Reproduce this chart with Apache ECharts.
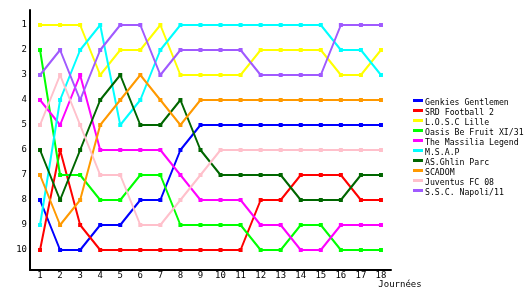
<!DOCTYPE html>
<html>
<head>
<meta charset="utf-8">
<script src="https://cdn.jsdelivr.net/npm/echarts@6/dist/echarts.min.js"></script>
<style>html,body{margin:0;padding:0;background:#fff}#c{width:530px;height:300px}</style>
</head>
<body>
<div id="c"></div>
<script>
var journees = ['1','2','3','4','5','6','7','8','9','10','11','12','13','14','15','16','17','18'];
var rankTicks = [1,2,3,4,5,6,7,8,9,10];
var teams = ['Genkies Gentlemen','SRD Football 2','L.O.S.C Lille','Oasis Be Fruit XI/31','The Massilia Legend','M.S.A.P','AS.Ghlin Parc','SCADOM','Juventus FC 08','S.S.C. Napoli/11'];
var genkies   = [8,10,10,9,9,8,8,6,5,5,5,5,5,5,5,5,5,5];
var srd       = [10,6,9,10,10,10,10,10,10,10,10,8,8,7,7,7,8,8];
var losc      = [1,1,1,3,2,2,1,3,3,3,3,2,2,2,2,3,3,2];
var oasis     = [2,7,7,8,8,7,7,9,9,9,9,10,10,9,9,10,10,10];
var massilia  = [4,5,3,6,6,6,6,7,8,8,8,9,9,10,10,9,9,9];
var msap      = [9,4,2,1,5,4,2,1,1,1,1,1,1,1,1,2,2,3];
var ghlin     = [6,8,6,4,3,5,5,4,6,7,7,7,7,8,8,8,7,7];
var scadom    = [7,9,8,5,4,3,4,5,4,4,4,4,4,4,4,4,4,4];
var juventus  = [5,3,5,7,7,9,9,8,7,6,6,6,6,6,6,6,6,6];
var napoli    = [3,2,4,2,1,1,3,2,2,2,2,3,3,3,3,1,1,1];

var seriesData = [genkies, srd, losc, oasis, massilia, msap, ghlin, scadom, juventus, napoli];
var colors = ['#0000ff','#ff0000','#ffff00','#00ff00','#ff00ff','#00ffff','#006600','#ff9900','#ffc0cb','#a05aff'];
var font = '"DejaVu Sans Mono", monospace';

var chart = echarts.init(document.getElementById('c'), null, {renderer:'canvas'});
chart.setOption({
  animation: false,
  color: colors,
  grid: {left: 30, top: 10, right: 139, bottom: 30, containLabel: false},
  legend: {
    orient: 'vertical',
    left: 413, top: 99,
    padding: 0,
    itemWidth: 10, itemHeight: 8, itemGap: 2,
    icon: 'path://M0 0H10V3H0Z M0 8H0.01V8.01H0Z',
    textStyle: {fontFamily: font, fontSize: 8.2, lineHeight: 8, height: 8, color: '#000', padding: [0,0,0,-3]},
    data: teams
  },
  xAxis: {
    type: 'category',
    data: journees,
    boundaryGap: true,
    name: 'Journées',
    nameLocation: 'end',
    nameGap: 9,
    nameTextStyle: {fontFamily: font, fontSize: 9, color: '#000', align: 'center', verticalAlign: 'top', padding: [10,0,0,0]},
    axisLine: {lineStyle: {color: '#000', width: 2}},
    axisTick: {show: false},
    axisLabel: {fontFamily: font, fontSize: 9, color: '#000', margin: 1, interval: 0},
    splitLine: {show: false}
  },
  yAxis: {
    type: 'value',
    inverse: true,
    min: 0.4, max: 10.8,
    axisLine: {show: true, lineStyle: {color: '#000', width: 2}},
    axisTick: {show: false},
    axisLabel: {fontFamily: font, fontSize: 9, color: '#000', margin: 3, customValues: rankTicks},
    splitLine: {show: false}
  },
  series: teams.map(function (t, i) {
    return {
      name: t,
      type: 'line',
      data: seriesData[i],
      symbol: 'rect',
      symbolSize: 4,
      showSymbol: true,
      lineStyle: {width: 2, color: colors[i]},
      itemStyle: {color: colors[i]},
      emphasis: {disabled: true}
    };
  })
});
</script>
</body>
</html>
